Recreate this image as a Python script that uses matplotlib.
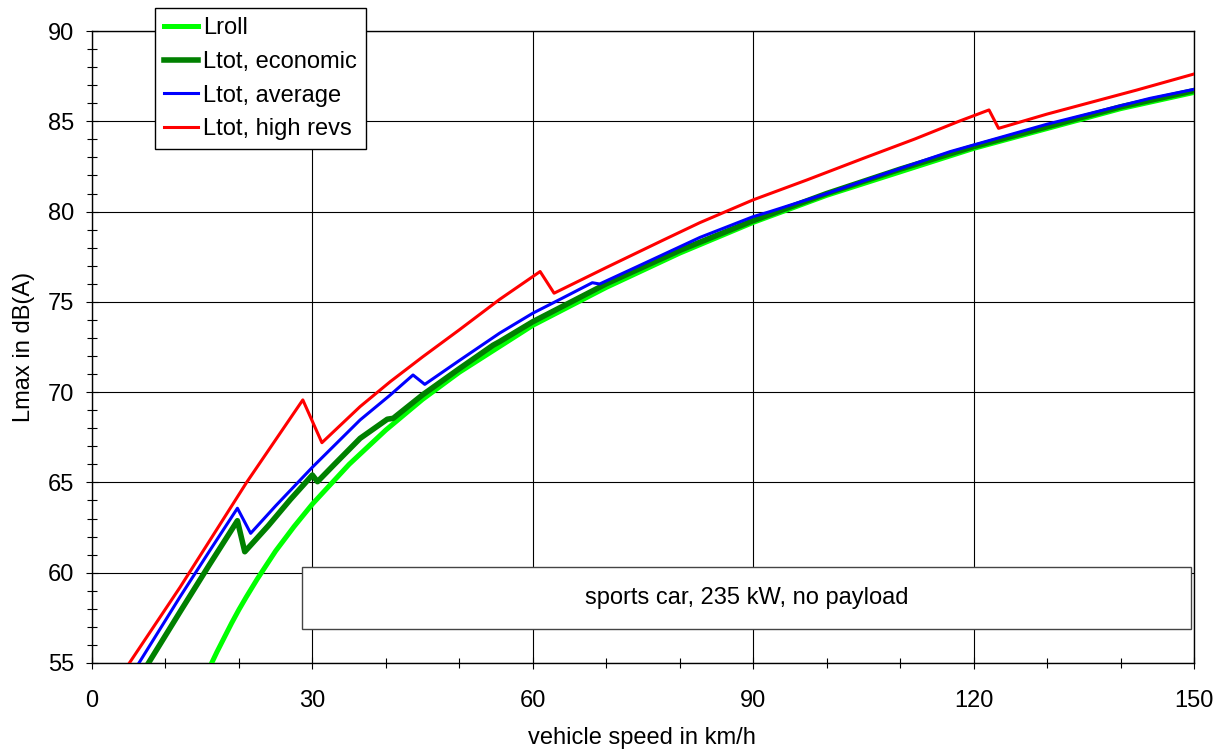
import matplotlib
matplotlib.use('Agg')
import matplotlib.pyplot as plt
from matplotlib.patches import Rectangle
from matplotlib.ticker import MultipleLocator

plt.rcParams['font.family'] = ['Liberation Sans', 'DejaVu Sans']
plt.rcParams['font.size'] = 17

# rolling noise
v_roll = [16.3, 17, 18, 19, 20, 21, 22.5, 25, 27.5, 30, 35, 40, 45, 50, 55, 60,
          70, 80, 90, 100, 110, 120, 130, 140, 150]
L_roll = [55.0, 55.6, 56.4, 57.2, 57.95, 58.65, 59.65, 61.2, 62.55, 63.8, 66.0,
          67.9, 69.6, 71.1, 72.4, 73.7, 75.8, 77.7, 79.4, 80.9, 82.2, 83.5, 84.6,
          85.7, 86.6]

# total level, economic driving
v_eco = [7.7, 12, 16, 19.8, 20.8, 24, 27, 30.0, 30.7, 33, 36.5, 40.2, 41, 45, 50,
         54.6, 55.5, 60, 70, 80, 90, 100, 110, 120, 130, 140, 150]
L_eco = [55.0, 57.84, 60.45, 62.88, 61.16, 62.6, 64.05, 65.41, 65.04, 66.0, 67.44,
         68.5, 68.55, 69.85, 71.3, 72.6, 72.8, 73.9, 76.0, 77.85, 79.5, 81.0,
         82.35, 83.6, 84.7, 85.8, 86.7]

# total level, average driving
v_avg = [6.4, 12, 16, 19.8, 21.6, 25, 30, 36.5, 40.6, 43.7, 45.3, 50, 55.5, 60,
         64, 68.1, 69.1, 75, 82.76, 90, 92.3, 100, 105.4, 116.8, 130, 144, 150]
L_avg = [55.0, 58.67, 61.2, 63.57, 62.18, 63.7, 65.84, 68.46, 69.84, 70.95, 70.43,
         71.75, 73.27, 74.37, 75.2, 76.06, 75.99, 77.1, 78.57, 79.72, 80.0, 81.0,
         81.75, 83.32, 84.84, 86.27, 86.77]

# total level, high revs
v_high = [5.1, 12, 16, 21.05, 28.7, 31.3, 36.5, 40.6, 45, 50, 55.5, 61.0, 62.9,
          70, 77.8, 82.76, 90, 97.3, 105, 112, 118, 122.1, 123.4, 130, 142.2, 150]
L_high = [55.0, 59.2, 61.76, 65.0, 69.57, 67.2, 69.2, 70.58, 71.95, 73.45, 75.14,
          76.68, 75.48, 76.9, 78.43, 79.39, 80.65, 81.75, 82.95, 84.02, 85.0,
          85.63, 84.61, 85.4, 86.73, 87.62]

fig = plt.figure(figsize=(12.26, 7.55), dpi=100)
ax = fig.add_axes([0.0750, 0.1219, 0.8989, 0.8370])

ax.plot(v_roll, L_roll, color='#00FF00', lw=3.6, label='Lroll', zorder=3)
ax.plot(v_eco, L_eco, color='#008000', lw=4.0, label='Ltot, economic', zorder=4)
ax.plot(v_avg, L_avg, color='#0000FF', lw=2.2, label='Ltot, average', zorder=5)
ax.plot(v_high, L_high, color='#FF0000', lw=2.2, label='Ltot, high revs', zorder=6)

ax.set_xlim(0, 150)
ax.set_ylim(55, 90)
ax.xaxis.set_major_locator(MultipleLocator(30))
ax.xaxis.set_minor_locator(MultipleLocator(10))
ax.yaxis.set_major_locator(MultipleLocator(5))
ax.yaxis.set_minor_locator(MultipleLocator(1))
ax.grid(which='major', color='black', lw=0.8)
ax.set_axisbelow(True)

ax.tick_params(which='major', direction='inout', length=9, width=0.8)
ax.tick_params(which='minor', direction='inout', length=7, width=0.8)
ax.tick_params(axis='x', which='major', pad=15)
ax.tick_params(axis='y', which='major', pad=8)
for s in ax.spines.values():
    s.set_linewidth(1.0)

ax.set_xlabel('vehicle speed in km/h', va='center')
ax.xaxis.set_label_coords(0.499, -0.1187)
ax.set_ylabel('Lmax in dB(A)', va='center')
ax.yaxis.set_label_coords(-0.0615, 0.5)

# vehicle info box
ax.add_patch(Rectangle((0.1906, 0.0538), 0.8067, 0.0981, transform=ax.transAxes,
                       facecolor='white', edgecolor='#444444', lw=1.0, zorder=2))
ax.text(0.594, 0.1029, 'sports car, 235 kW, no payload', transform=ax.transAxes,
        ha='center', va='center', zorder=2.5)

leg = ax.legend(loc='upper left', bbox_to_anchor=(0.1264, 0.9894),
                bbox_transform=fig.transFigure, borderaxespad=0, fancybox=False,
                framealpha=1, edgecolor='black', borderpad=0.38, handlelength=1.45,
                handletextpad=0.2, labelspacing=0.5)
leg.get_frame().set_linewidth(1.0)
leg.set_zorder(10)

plt.savefig('out.png', dpi=100)
